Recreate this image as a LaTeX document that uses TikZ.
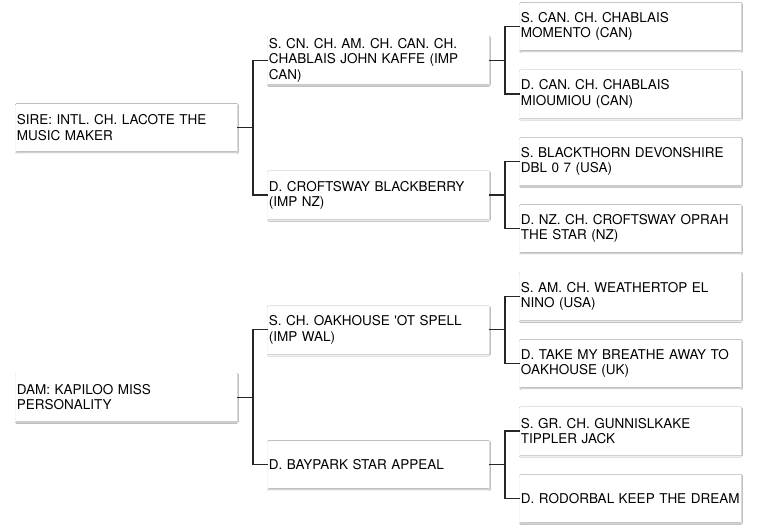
\documentclass[tikz,border=0pt]{standalone}
\usepackage{fontspec}
\setmainfont{TeX Gyre Heros}
\usetikzlibrary{shadows.blur}
\begin{document}
\begin{tikzpicture}[x=1pt,y=-1pt,
  pbox/.style={anchor=west, fill=white, draw=none, rectangle,
    minimum width=220.5pt, minimum height=47.5pt, text width=219pt,
    inner xsep=0.5pt, inner ysep=0pt, align=left,
    font=\fontsize{13.5}{15.2}\selectfont, text=black,
    blur shadow={shadow xshift=0.3pt, shadow yshift=-1.1pt, shadow blur radius=1.4pt, shadow opacity=30}},
  link/.style={draw=black!85, line width=1.2pt}]
\fill[white] (0,0) rectangle (757,527);
\useasboundingbox (0,0) rectangle (757,527);
% column 1
\node[pbox] (sire) at (16,127.6) {SIRE: INTL. CH. LACOTE THE\\MUSIC MAKER};
\node[pbox] (dam) at (16,397.2) {DAM: KAPILOO MISS\\PERSONALITY};
% column 2
\node[pbox] (ss) at (268,60.2) {S. CN. CH. AM. CH. CAN. CH.\\CHABLAIS JOHN KAFFE (IMP\\CAN)};
\node[pbox] (sd) at (268,195) {D. CROFTSWAY BLACKBERRY\\(IMP NZ)};
\node[pbox] (ds) at (268,329.8) {S. CH. OAKHOUSE \textquotesingle OT SPELL\\(IMP WAL)};
\node[pbox] (dd) at (268,464.6) {D. BAYPARK STAR APPEAL};
% column 3
\node[pbox] (sss) at (520,26.5) {S. CAN. CH. CHABLAIS\\MOMENTO (CAN)};
\node[pbox] (ssd) at (520,93.9) {D. CAN. CH. CHABLAIS\\MIOUMIOU (CAN)};
\node[pbox] (sds) at (520,161.3) {S. BLACKTHORN DEVONSHIRE\\DBL 0 7 (USA)};
\node[pbox] (sdd) at (520,228.7) {D. NZ. CH. CROFTSWAY OPRAH\\THE STAR (NZ)};
\node[pbox] (dss) at (520,296.1) {S. AM. CH. WEATHERTOP EL\\NINO (USA)};
\node[pbox] (dsd) at (520,363.5) {D. TAKE MY BREATHE AWAY TO\\OAKHOUSE (UK)};
\node[pbox] (dds) at (520,430.9) {S. GR. CH. GUNNISLKAKE\\TIPPLER JACK};
\node[pbox] (ddd) at (520,498.3) {D. RODORBAL KEEP THE DREAM};
% connectors
\foreach \p/\a/\b in {sire/ss/sd, dam/ds/dd, ss/sss/ssd, sd/sds/sdd, ds/dss/dsd, dd/dds/ddd}{
  \draw[link] (\p.east) -- ++(16,0) coordinate (m\p);
  \draw[link] (\a.west) -| (m\p) |- (\b.west);
}
\end{tikzpicture}
\end{document}
